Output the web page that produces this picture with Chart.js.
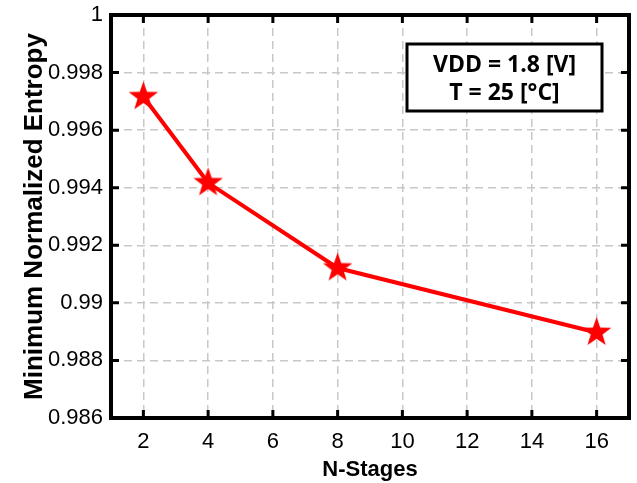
<!DOCTYPE html>
<html><head><meta charset="utf-8">
<script src="https://cdn.jsdelivr.net/npm/chart.js@4"></script>
<style>html,body{margin:0;padding:0;background:#fff}#wrap{width:637px;height:483px}</style>
</head><body><div id="wrap"><canvas id="c" width="637" height="483"></canvas></div>
<script>
const stages = [2, 4, 8, 16];
const entropy = [0.99716, 0.99417, 0.99121, 0.98897];
const xTicks = [2, 4, 6, 8, 10, 12, 14, 16];
const yTicks = [0.986, 0.988, 0.99, 0.992, 0.994, 0.996, 0.998, 1];
const annotationLines = ['VDD = 1.8 [V]', 'T = 25 [°C]'];

function makeStar(R, ratio, color) {
  const s = Math.ceil(R * 2 + 2);
  const cv = document.createElement('canvas');
  cv.width = s; cv.height = s;
  const g = cv.getContext('2d');
  const cx = s / 2, cy = s / 2;
  g.beginPath();
  for (let i = 0; i < 10; i++) {
    const r = i % 2 === 0 ? R : R * ratio;
    const a = -Math.PI / 2 + i * Math.PI / 5;
    const px = cx + r * Math.cos(a), py = cy + r * Math.sin(a);
    if (i === 0) g.moveTo(px, py); else g.lineTo(px, py);
  }
  g.closePath();
  g.fillStyle = color;
  g.fill();
  return cv;
}
const star = makeStar(15.5, 0.4, '#ff0000');

const framePlugin = {
  id: 'frame',
  afterDraw(chart) {
    const ctx = chart.ctx, a = chart.chartArea;
    const xs = chart.scales.x, ys = chart.scales.y;
    ctx.save();
    ctx.strokeStyle = '#000';
    ctx.lineWidth = 3;
    const tl = 8;
    ctx.beginPath();
    xTicks.forEach(v => {
      const px = xs.getPixelForValue(v);
      ctx.moveTo(px, a.bottom); ctx.lineTo(px, a.bottom - tl);
      ctx.moveTo(px, a.top); ctx.lineTo(px, a.top + tl);
    });
    yTicks.forEach(v => {
      const py = ys.getPixelForValue(v);
      ctx.moveTo(a.left, py); ctx.lineTo(a.left + tl, py);
      ctx.moveTo(a.right, py); ctx.lineTo(a.right - tl, py);
    });
    ctx.stroke();
    ctx.lineWidth = 4;
    ctx.strokeRect(a.left, a.top, a.right - a.left, a.bottom - a.top);
    // annotation box
    const bx = 407, by = 44, bw = 195, bh = 67;
    ctx.fillStyle = '#fff';
    ctx.fillRect(bx, by, bw, bh);
    ctx.lineWidth = 3;
    ctx.strokeRect(bx, by, bw, bh);
    ctx.fillStyle = '#000';
    ctx.font = 'bold 23px "Open Sans"';
    ctx.textAlign = 'center';
    ctx.textBaseline = 'alphabetic';
    ctx.fillText(annotationLines[0], bx + bw / 2, by + 28);
    ctx.fillText(annotationLines[1], bx + bw / 2, by + 56);
    ctx.restore();
  }
};

new Chart(document.getElementById('c'), {
  type: 'line',
  data: {
    datasets: [{
      data: stages.map((s, i) => ({x: s, y: entropy[i]})),
      borderColor: '#ff0000',
      backgroundColor: '#ff0000',
      borderWidth: 4,
      pointStyle: star,
      pointRadius: 16,
      tension: 0
    }]
  },
  options: {
    responsive: false,
    animation: false,
    devicePixelRatio: 1,
    layout: {autoPadding: false, padding: {left: 0, right: 8, top: 15, bottom: 0}},
    plugins: {legend: {display: false}, tooltip: {enabled: false}},
    scales: {
      x: {
        type: 'linear', min: 1, max: 17,
        afterBuildTicks: s => { s.ticks = xTicks.map(v => ({value: v})); },
        afterFit: s => { s.height = 65; s.paddingLeft = 0; s.paddingRight = 0; },
        grid: {color: '#c8c8c8', lineWidth: 1.5, drawTicks: false},
        border: {display: false, dash: [8, 5]},
        ticks: {color: '#000', padding: 11, font: {family: 'Liberation Sans', size: 22}},
        title: {display: true, text: 'N-Stages', color: '#000', padding: {top: 0, bottom: 0},
                font: {family: 'Liberation Sans', size: 22, weight: 'bold'}}
      },
      y: {
        type: 'linear', min: 0.986, max: 1,
        afterBuildTicks: s => { s.ticks = yTicks.map(v => ({value: v})); },
        afterFit: s => { s.width = 111; s.paddingTop = 0; s.paddingBottom = 0; },
        grid: {color: '#c8c8c8', lineWidth: 1.5, drawTicks: false},
        border: {display: false, dash: [8, 5]},
        ticks: {color: '#000', padding: 8, font: {family: 'Liberation Sans', size: 22},
                callback: v => String(+(+v).toFixed(3))},
        title: {display: true, text: 'Minimum Normalized Entropy', color: '#000', padding: {top: 19, bottom: 0},
                font: {family: 'Liberation Sans', size: 26, weight: 'bold'}}
      }
    }
  },
  plugins: [framePlugin]
});
</script>
</body></html>
